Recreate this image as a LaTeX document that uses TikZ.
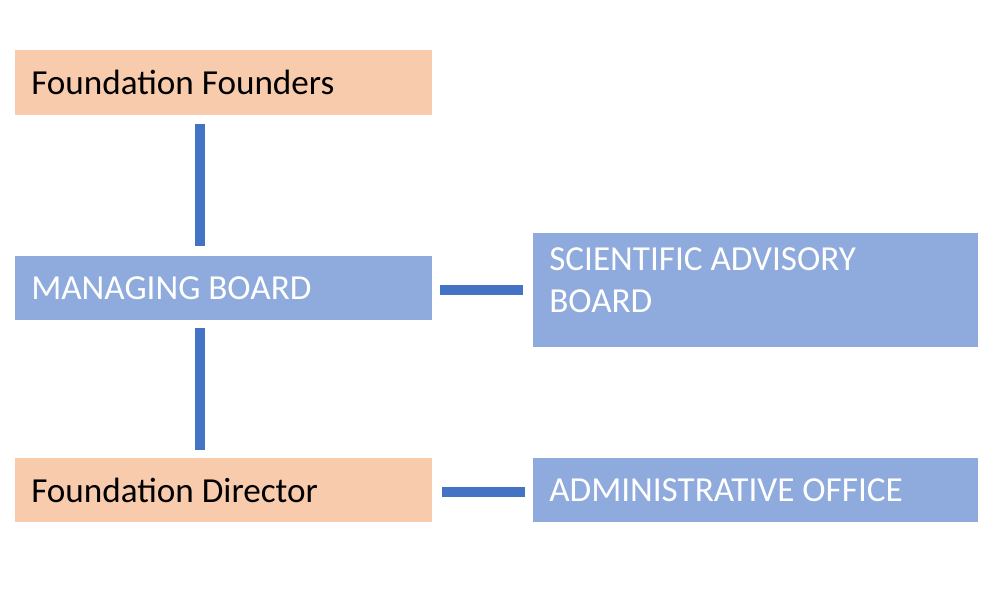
\documentclass[tikz,border=0pt]{standalone}
\usepackage{fontspec}
\setmainfont{Carlito}
\usetikzlibrary{calc}
\definecolor{peach}{HTML}{F8CBAD}
\definecolor{paleblue}{HTML}{8FAADC}
\definecolor{linkblue}{HTML}{4472C4}
\tikzset{
    box/.style={anchor=north west, inner sep=0pt, outer sep=0pt, text depth=0pt},
    peachbox/.style={box, fill=peach, text=black},
    bluebox/.style={box, fill=paleblue, text=white},
    link/.style={draw=linkblue, line width=7pt}
}
\begin{document}
\begin{tikzpicture}[x=0.025cm,y=-0.025cm]
    \useasboundingbox (0,0) rectangle (1000,589);
    \fontsize{25}{30}\selectfont
    % boxes
    \node[peachbox, minimum width=417*0.025cm, minimum height=65*0.025cm] (founders) at (15,50) {};
    \node[anchor=west, inner sep=0pt] at ($(founders.west)+(16,0)$) {Foundation Founders};
    \node[bluebox, minimum width=417*0.025cm, minimum height=64*0.025cm] (board) at (15,256) {};
    \node[anchor=west, inner sep=0pt, text=white] at ($(board.west)+(16,0)$) {MANAGING BOARD};
    \node[bluebox, minimum width=445*0.025cm, minimum height=114*0.025cm] (sab) at (533,233) {};
    \node[anchor=north west, inner sep=0pt, text=white, align=left] at ($(sab.north west)+(16,14)$) {SCIENTIFIC ADVISORY\\BOARD};
    \node[peachbox, minimum width=417*0.025cm, minimum height=64*0.025cm] (director) at (15,458) {};
    \node[anchor=west, inner sep=0pt] at ($(director.west)+(16,0)$) {Foundation Director};
    \node[bluebox, minimum width=445*0.025cm, minimum height=64*0.025cm] (office) at (533,458) {};
    \node[anchor=west, inner sep=0pt, text=white] at ($(office.west)+(16,0)$) {ADMINISTRATIVE OFFICE};

    % links
    \draw[link] ($(founders.south west)+(185,9)$) -- ($(board.north west)+(185,-10)$);
    \draw[link] ($(board.south west)+(185,8)$) -- ($(director.north west)+(185,-8)$);
    \draw[link] ($(board.east)+(8,2)$) -- ($(sab.west)+(-10,0)$);
    \draw[link] ($(director.east)+(10,2)$) -- ($(office.west)+(-8,2)$);
\end{tikzpicture}
\end{document}
